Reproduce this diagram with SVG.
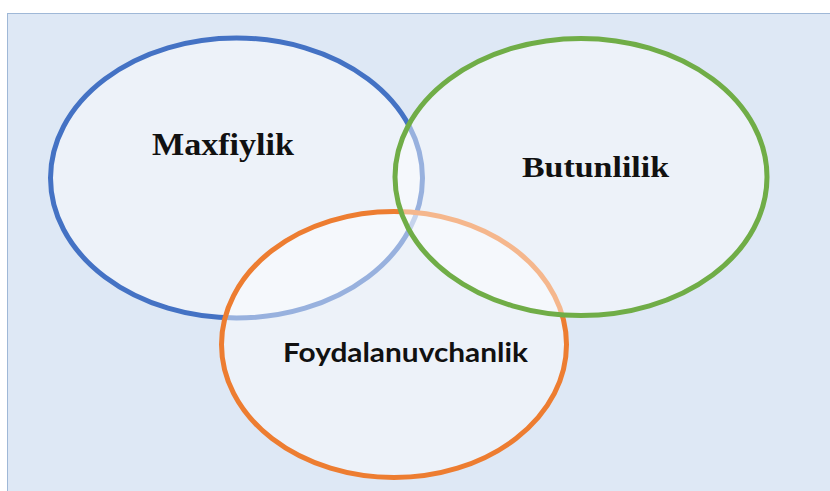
<svg xmlns="http://www.w3.org/2000/svg" width="830" height="491" viewBox="0 0 830 491">
  <style>
    .set { fill: #ffffff; fill-opacity: 0.45; stroke-width: 5; }
    .serif { font-family: "Liberation Serif", "Times New Roman", serif; font-weight: bold; fill: #111111; }
    .sans { font-family: Lato, "Liberation Sans", sans-serif; font-weight: bold; fill: #111111; }
  </style>
  <rect x="0" y="0" width="830" height="491" fill="#ffffff"/>
  <rect x="7.5" y="13.5" width="830" height="490" fill="#dee8f5" stroke="#9fb8d7" stroke-width="1"/>
  <g id="maxfiylik">
    <ellipse class="set" cx="236.5" cy="178" rx="186" ry="140" stroke="#4472c4"/>
  </g>
  <g id="foydalanuvchanlik">
    <ellipse class="set" cx="394" cy="344.5" rx="172.5" ry="133" stroke="#ed7d31"/>
  </g>
  <g id="butunlilik">
    <ellipse class="set" cx="581" cy="177" rx="186" ry="138.5" stroke="#70ad47"/>
  </g>
  <g id="labels">
    <text class="serif" x="152" y="155" font-size="32" textLength="142" lengthAdjust="spacingAndGlyphs">Maxfiylik</text>
    <text class="serif" x="522" y="177" font-size="30" textLength="147" lengthAdjust="spacingAndGlyphs">Butunlilik</text>
    <text class="sans" x="283" y="362" font-size="26" textLength="245" lengthAdjust="spacingAndGlyphs">Foydalanuvchanlik</text>
  </g>
  <g id="connectors"/>
</svg>
